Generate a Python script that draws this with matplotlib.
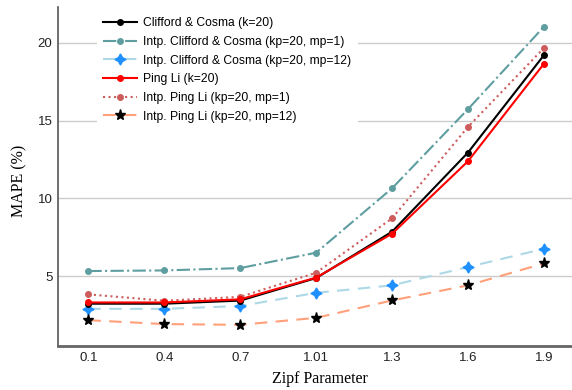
import matplotlib
matplotlib.use("Agg")
import matplotlib.pyplot as plt
import numpy as np

zipf = ["0.1", "0.4", "0.7", "1.01", "1.3", "1.6", "1.9"]
cc_k20 = [3.22, 3.22, 3.42, 4.87, 7.85, 12.94, 19.2]
cc_mp1 = [5.32, 5.36, 5.51, 6.5, 10.64, 15.73, 21.03]
cc_mp12 = [2.89, 2.89, 3.07, 3.92, 4.40, 5.58, 6.75]
pl_k20 = [3.3, 3.3, 3.5, 4.9, 7.72, 12.38, 18.65]
pl_mp1 = [3.82, 3.41, 3.66, 5.21, 8.71, 14.59, 19.66]
pl_mp12 = [2.16, 1.91, 1.86, 2.31, 3.43, 4.40, 5.81]

fig = plt.figure(figsize=(5.72, 3.9), dpi=100)
ax = fig.add_axes([58/572, 1-346/390, 1-58/572, (346-7)/390])
x = np.arange(len(zipf))

ax.plot(x, cc_k20, color="black", lw=1.5, marker="o", ms=4, label="Clifford & Cosma (k=20)", zorder=5)
ax.plot(x, cc_mp1, color="cadetblue", lw=1.5, ls="-.", marker="o", ms=4, label="Intp. Clifford & Cosma (kp=20, mp=1)")
ax.plot(x, cc_mp12, color="lightblue", lw=1.5, ls=(0, (6, 4)), marker=(4, 1, 0), ms=8,
        mfc="dodgerblue", mec="dodgerblue", label="Intp. Clifford & Cosma (kp=20, mp=12)")
ax.plot(x, pl_k20, color="red", lw=1.5, marker="o", ms=4, label="Ping Li (k=20)", zorder=6)
ax.plot(x, pl_mp1, color="indianred", lw=1.5, ls=":", marker="o", ms=4, label="Intp. Ping Li (kp=20, mp=1)")
ax.plot(x, pl_mp12, color="lightsalmon", lw=1.5, ls=(0, (6, 4)), marker="*", ms=8,
        mfc="black", mec="black", label="Intp. Ping Li (kp=20, mp=12)")

ax.set_xlim(-0.4, 6.37)
ax.set_ylim(0.5, 22.3)
ax.set_xticks(x)
ax.set_xticklabels(zipf)
ax.set_yticks([5, 10, 15, 20])
ax.grid(axis="y", color="#cccccc", lw=1)
ax.set_axisbelow(True)
ax.tick_params(length=0, labelsize=9.5, colors="#222222")
ax.tick_params(axis="x", pad=4)
ax.tick_params(axis="y", pad=4)
for lab in ax.get_xticklabels() + ax.get_yticklabels():
    lab.set_family("Liberation Sans")
for s in ["top", "right"]:
    ax.spines[s].set_visible(False)
ax.spines["left"].set_color("#555555")
ax.spines["bottom"].set_color("#666666")
ax.spines["bottom"].set_linewidth(2)
ax.spines["left"].set_linewidth(1.2)

ax.set_xlabel("Zipf Parameter", family="Liberation Serif", fontsize=11.5)
ax.set_ylabel("MAPE (%)", family="Liberation Serif", fontsize=11.5)
ax.xaxis.set_label_coords((320-58)/514, -(371-346)/339)
ax.yaxis.set_label_coords(-(58-27)/514, (346-181)/339)

leg = ax.legend(loc="upper left", bbox_to_anchor=(0.065, 1.005), frameon=True, fancybox=False,
                edgecolor="white", framealpha=1, prop={"family": "Liberation Sans", "size": 8.7},
                handlelength=2.8, borderpad=0.5, labelspacing=0.55, handletextpad=0.5)
leg.get_frame().set_linewidth(0)

fig.savefig("out.png", dpi=100)
